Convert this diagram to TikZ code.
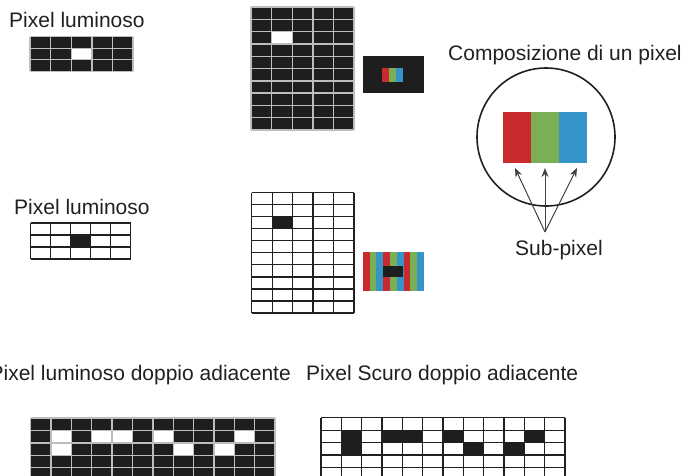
\documentclass[tikz,border=0pt]{standalone}
\usepackage{fontspec}
\setmainfont{Liberation Sans}
\usetikzlibrary{arrows.meta}
\definecolor{ink}{HTML}{231F20}
\definecolor{dk}{HTML}{1E1E1E}
\definecolor{gl}{HTML}{BDBDBD}
\definecolor{rd}{HTML}{C92A2E}
\definecolor{gn}{HTML}{7BAF53}
\definecolor{bl}{HTML}{3594C8}
\tikzset{
  lbl/.style={inner sep=0pt, font=\fontsize{21}{25}\selectfont, text=ink},
  darkgrid/.style={draw=gl, line width=1.4pt},
  lightgrid/.style={draw=ink, line width=1.2pt},
  arr/.style={-{Stealth[length=9pt,width=7pt]}, line width=1pt, draw=ink!85},
  ring/.style={circle, draw=ink, line width=1.6pt, minimum size=138pt, inner sep=0pt},
}
% grid lines: x0,y0,w,h,ncols,nrows
\newcommand\pxlines[6]{%
  \foreach \i in {0,...,#5} \draw (#1+\i*#3,#2) -- (#1+\i*#3,#2+#6*#4);
  \foreach \j in {0,...,#6} \draw (#1,#2+\j*#4) -- (#1+#5*#3,#2+\j*#4);
}
% one cell: x0,y0,w,h,col,row,colour
\newcommand\pxcell[7]{%
  \fill[#7] (#1+#5*#3,#2+#6*#4) rectangle (#1+#5*#3+#3,#2+#6*#4+#4);
}
\begin{document}
\begin{tikzpicture}[x=1pt,y=-1pt]
\useasboundingbox (0,0) rectangle (688,475);
\clip (0,0) rectangle (688,475);

% ---------- labels ----------
\node[lbl, anchor=base west] (tA) at (9,27.7) {Pixel luminoso};
\node[lbl, anchor=base west] (tB) at (448,60) {Composizione di un pixel};
\node[lbl, anchor=base west] (tC) at (14,214.5) {Pixel luminoso};
\node[lbl, anchor=base west] (tD) at (515,255) {Sub-pixel};
\node[lbl, anchor=base east] (tE) at (291,380.5) {Pixel luminoso doppio adiacente};
\node[lbl, anchor=base west] (tF) at (306,380.5) {Pixel Scuro doppio adiacente};

% ---------- grid A (top-left, dark) ----------
\fill[dk] (30,36.7) rectangle (133,71.2);
\pxcell{30}{36.7}{20.6}{11.5}{2}{1}{white}
\begin{scope}[darkgrid]\pxlines{30}{36.7}{20.6}{11.5}{5}{3}\end{scope}

% ---------- grid B (top middle, dark) ----------
\fill[dk] (251,7) rectangle (354,130);
\pxcell{251}{7}{20.6}{12.3}{1}{2}{white}
\begin{scope}[darkgrid]\pxlines{251}{7}{20.6}{12.3}{5}{10}\end{scope}

% small screen with one pixel
\fill[dk] (362.7,56) rectangle (424,92.7);
\fill[rd] (382,68) rectangle (389,82);
\fill[gn] (389,68) rectangle (396,82);
\fill[bl] (396,68) rectangle (403,82);

% ---------- pixel composition ----------
\node[ring] (circ) at (546,137) {};
\fill[rd] (503,112) rectangle (531,163);
\fill[gn] (531,112) rectangle (559,163);
\fill[bl] (559,112) rectangle (587,163);
\coordinate (apex) at (545,232);
\coordinate (sr) at (515,168);
\coordinate (sg) at (545,168);
\coordinate (sb) at (577,168);
\draw[arr] (apex) -- (sr);
\draw[arr] (apex) -- (sg);
\draw[arr] (apex) -- (sb);

% ---------- grid D (middle-left, light) ----------
\pxcell{30.7}{223}{20}{12}{2}{1}{dk}
\begin{scope}[lightgrid]\pxlines{30.7}{223}{20}{12}{5}{3}\end{scope}

% ---------- grid E (middle, light) ----------
\pxcell{251.7}{192.7}{20.46}{12.03}{1}{2}{dk}
\begin{scope}[lightgrid]\pxlines{251.7}{192.7}{20.46}{12.03}{5}{10}\end{scope}

% striped screen with one dark pixel
\foreach \k in {0,3,6} {
  \fill[rd] (362.7+\k*6.81,252) rectangle (362.7+\k*6.81+6.81,290.7);
  \fill[gn] (362.7+\k*6.81+6.81,252) rectangle (362.7+\k*6.81+13.62,290.7);
  \fill[bl] (362.7+\k*6.81+13.62,252) rectangle (362.7+\k*6.81+20.43,290.7);
}
\fill[dk] (383.4,266) rectangle (403.4,277.3);

% ---------- grid G (bottom-left, dark) ----------
\fill[dk] (30.7,418) rectangle (275,480);
\foreach \c/\r in {1/1,1/2,3/1,4/1,6/1,7/2,9/2,10/1}
  {\pxcell{30.7}{418}{20.36}{12.4}{\c}{\r}{white}}
\begin{scope}[darkgrid]\pxlines{30.7}{418}{20.36}{12.4}{12}{5}\end{scope}

% ---------- grid H (bottom-right, light) ----------
\foreach \c/\r in {1/1,1/2,3/1,4/1,6/1,7/2,9/2,10/1}
  {\pxcell{321}{417.7}{20.33}{12.4}{\c}{\r}{dk}}
\begin{scope}[lightgrid]\pxlines{321}{417.7}{20.33}{12.4}{12}{5}\end{scope}

\end{tikzpicture}
\end{document}
